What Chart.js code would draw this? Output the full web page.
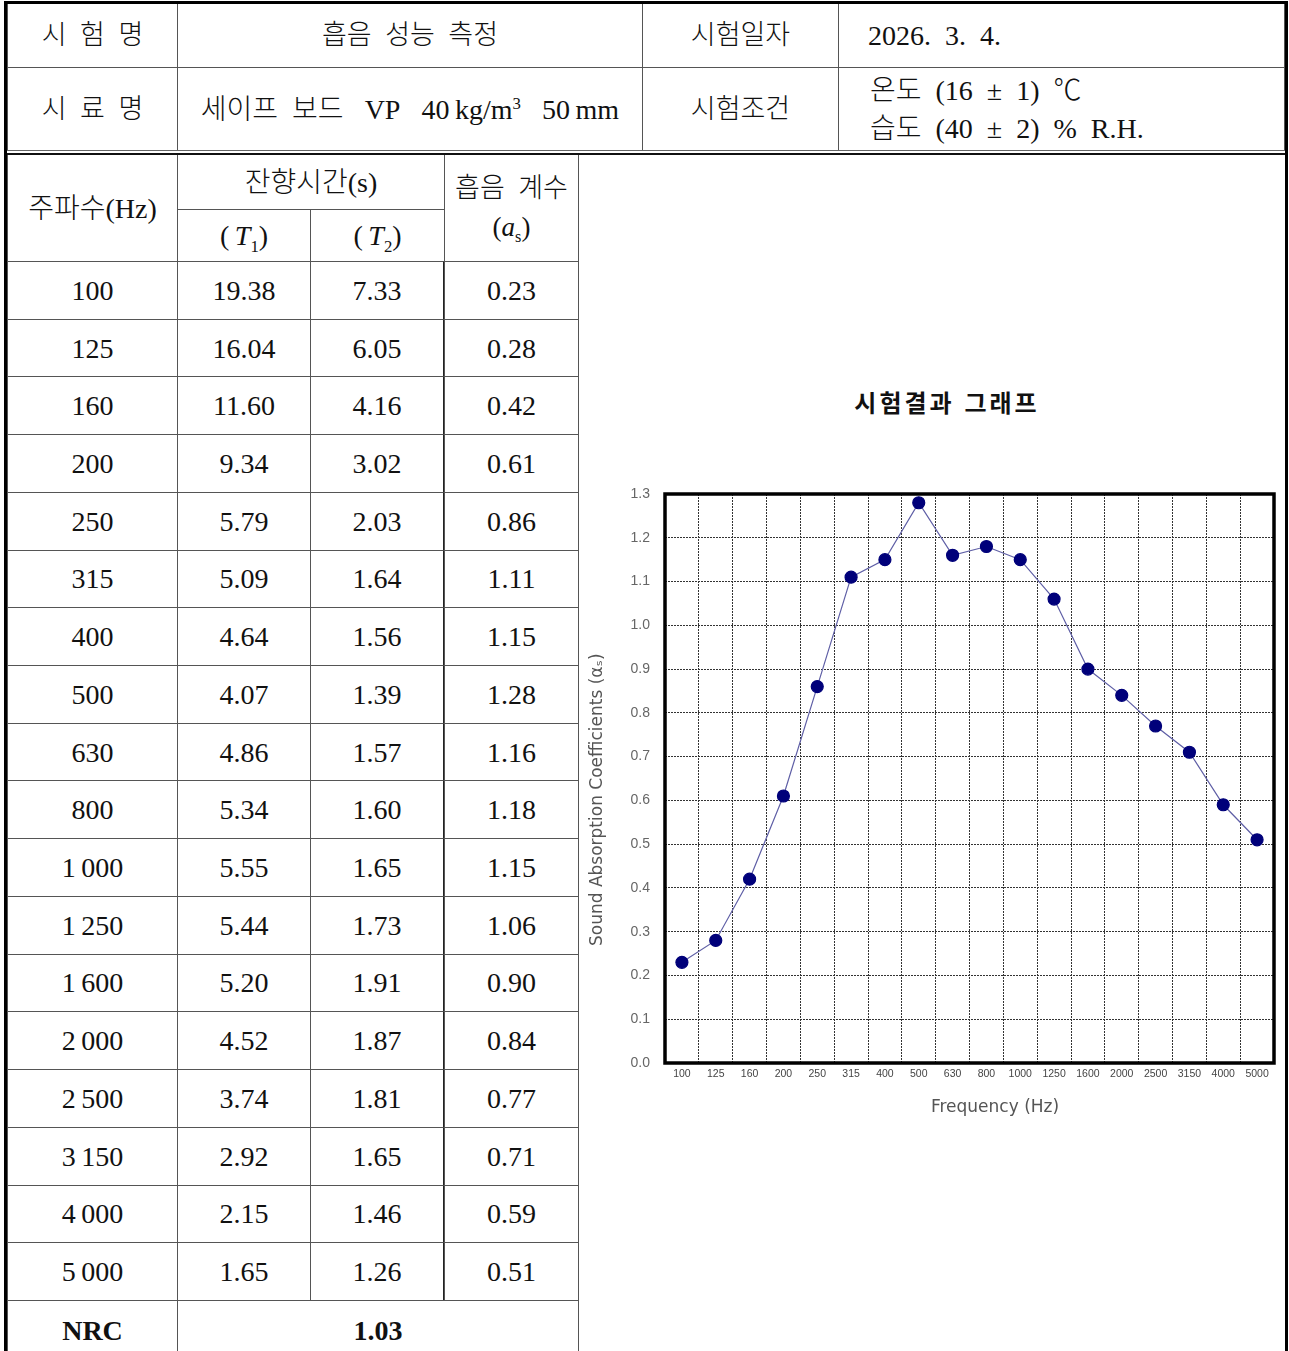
<!DOCTYPE html>
<html lang="ko">
<head>
<meta charset="utf-8">
<script src="https://cdn.jsdelivr.net/npm/chart.js@4.4.1/dist/chart.umd.min.js"></script>
<style>
  html, body { margin: 0; padding: 0; background: #fff; }
  body { width: 1289px; height: 1351px; position: relative; overflow: hidden;
         font-family: "Liberation Serif", "Noto Sans CJK KR", serif; color: #111; font-weight: 300; }
  .cell { position: absolute; box-sizing: border-box; border: 1px solid #555;
          display: flex; align-items: center; justify-content: center; text-align: center;
          font-size: 28px; line-height: 1.25; background: #fff; white-space: nowrap; }
  .ko { font-size: 27px; }
  .left { justify-content: flex-start; text-align: left; }
  .bold { font-weight: bold; }
  sub, sup { font-size: 60%; line-height: 0; }
  #frame { position: absolute; left: 4px; top: 1px; width: 1284px; height: 1400px;
           box-sizing: border-box; border: 3px solid #000; z-index: 5; pointer-events: none; }
  #sep { position: absolute; left: 7px; top: 150px; width: 1278px; height: 5px; box-sizing: border-box;
         border-top: 1px solid #666; border-bottom: 2px solid #111; background: #fff; z-index: 4; }
  #graphTitle { position: absolute; left: 578px; width: 708px; top: 384px; text-align: center;
                padding-left: 30px; box-sizing: border-box; font-family: "Noto Sans CJK KR", sans-serif;
                font-size: 24px; font-weight: bold; letter-spacing: 3px; z-index: 3; }
  #chartBox { position: absolute; left: 580px; top: 470px; width: 705px; height: 660px; z-index: 3; }
</style>
</head>
<body>
<div id="frame"></div>
<div id="sep"></div>
<div id="graphTitle">시험결과 그래프</div>
<div id="chartBox"><canvas id="chart" width="705" height="660"></canvas></div>

<script>
// measured data
const freqHz = [100, 125, 160, 200, 250, 315, 400, 500, 630, 800, 1000, 1250, 1600, 2000, 2500, 3150, 4000, 5000];
const reverbT1 = [19.38, 16.04, 11.60, 9.34, 5.79, 5.09, 4.64, 4.07, 4.86, 5.34, 5.55, 5.44, 5.20, 4.52, 3.74, 2.92, 2.15, 1.65];
const reverbT2 = [7.33, 6.05, 4.16, 3.02, 2.03, 1.64, 1.56, 1.39, 1.57, 1.60, 1.65, 1.73, 1.91, 1.87, 1.81, 1.65, 1.46, 1.26];
const alphaS = [0.23, 0.28, 0.42, 0.61, 0.86, 1.11, 1.15, 1.28, 1.16, 1.18, 1.15, 1.06, 0.90, 0.84, 0.77, 0.71, 0.59, 0.51];
const nrc = 1.03;
const yTicks = [0.0, 0.1, 0.2, 0.3, 0.4, 0.5, 0.6, 0.7, 0.8, 0.9, 1.0, 1.1, 1.2, 1.3];

function cell(x, y, w, h, html, cls, css) {
  const d = document.createElement("div");
  d.className = "cell" + (cls ? " " + cls : "");
  d.style.left = x + "px";
  d.style.top = y + "px";
  d.style.width = w + "px";
  d.style.height = h + "px";
  if (css) Object.assign(d.style, css);
  d.innerHTML = "<span>" + html + "</span>";
  document.body.appendChild(d);
  return d;
}

// top info block
cell(7, 3, 171, 65, "시&nbsp;&nbsp;험&nbsp;&nbsp;명", "ko");
cell(177, 3, 466, 65, "흡음&nbsp;&nbsp;성능&nbsp;&nbsp;측정", "ko");
cell(642, 3, 197, 65, "시험일자", "ko");
cell(838, 3, 447, 65, "2026.&nbsp;&nbsp;3.&nbsp;&nbsp;4.", "left", { paddingLeft: "29px" });
cell(7, 67, 171, 85, "시&nbsp;&nbsp;료&nbsp;&nbsp;명", "ko");
cell(177, 67, 466, 85, "세이프&nbsp;&nbsp;보드&nbsp;&nbsp;&nbsp;VP&nbsp;&nbsp;&nbsp;40&thinsp;kg/m<sup>3</sup>&nbsp;&nbsp;&nbsp;50&thinsp;mm");
cell(642, 67, 197, 85, "시험조건", "ko");
cell(838, 67, 447, 85, "온도&nbsp;&nbsp;(16&nbsp;&nbsp;±&nbsp;&nbsp;1)&nbsp;&nbsp;℃<br>습도&nbsp;&nbsp;(40&nbsp;&nbsp;±&nbsp;&nbsp;2)&nbsp;&nbsp;%&nbsp;&nbsp;R.H.", "left",
     { paddingLeft: "31px", lineHeight: "1.35" });

// lower table header
cell(578, 154, 708, 1250, "");
cell(7, 154, 171, 108, "주파수(Hz)");
cell(177, 154, 268, 56, "잔향시간(s)");
cell(177, 209, 134, 53, "(&thinsp;<i>T</i><sub>1</sub>)");
cell(310, 209, 135, 53, "(&thinsp;<i>T</i><sub>2</sub>)");
cell(444, 154, 135, 108, "흡음&nbsp;&nbsp;계수<br>(<i>a</i><sub>s</sub>)", "ko", { lineHeight: "1.45" });

const rowTop = 261, rowH = 57.72;
const fmtFreq = f => f >= 1000 ? String(f).slice(0, -3) + "\u2009" + String(f).slice(-3) : String(f);
freqHz.forEach((f, i) => {
  const y = rowTop + i * rowH;
  cell(7, y, 171, rowH + 1, fmtFreq(f));
  cell(177, y, 134, rowH + 1, reverbT1[i].toFixed(2));
  cell(310, y, 135, rowH + 1, reverbT2[i].toFixed(2), "", { borderRight: "2px solid #222" });
  cell(444, y, 135, rowH + 1, alphaS[i].toFixed(2));
});
const nrcTop = rowTop + freqHz.length * rowH;
cell(7, nrcTop, 171, 62, "NRC", "bold");
cell(177, nrcTop, 402, 62, nrc.toFixed(2), "bold");

// chart
const framePlugin = {
  id: "frame",
  afterDraw(chart) {
    const { ctx, chartArea: a } = chart;
    ctx.save();
    ctx.lineWidth = 3.5;
    ctx.strokeStyle = "#000";
    ctx.strokeRect(a.left, a.top, a.right - a.left, a.bottom - a.top);
    ctx.restore();
  }
};

new Chart(document.getElementById("chart"), {
  type: "line",
  data: {
    labels: freqHz.map(String),
    datasets: [{
      data: alphaS,
      borderColor: "#5f5fa6",
      borderWidth: 1.2,
      pointRadius: 6,
      pointBackgroundColor: "#00007a",
      pointBorderColor: "#00007a",
      tension: 0
    }]
  },
  options: {
    responsive: false,
    animation: false,
    layout: { padding: { top: 24, right: 11, left: 0, bottom: 0 } },
    plugins: { legend: { display: false }, tooltip: { enabled: false } },
    scales: {
      x: {
        offset: true,
        grid: { offset: true, color: "#333", drawTicks: false },
        border: { display: false, dash: [2, 1] },
        ticks: { color: "#444", font: { family: "Liberation Sans", size: 10.5 }, padding: 5, maxRotation: 0, autoSkip: false },
        title: { display: true, text: "\u2003\u2003\u2003Frequency (Hz)", color: "#555",
                 font: { family: "DejaVu Sans", size: 17 }, padding: { top: 0, bottom: 12 } },
        afterFit(scale) { scale.height = 67; }
      },
      y: {
        min: 0,
        max: 1.3,
        afterBuildTicks(scale) { scale.ticks = yTicks.map(v => ({ value: v })); },
        grid: { color: "#333", drawTicks: false },
        border: { display: false, dash: [2, 1] },
        ticks: { color: "#666", font: { family: "Liberation Sans", size: 14 }, padding: 15,
                 callback: v => Number(v).toFixed(1) },
        title: { display: true, text: "Sound Absorption Coefficients (\u03b1\u209b)\u2003\u2003\u2002", color: "#555",
                 font: { family: "DejaVu Sans", size: 17 }, padding: { top: 7, bottom: 0 } },
        afterFit(scale) { scale.width = 85; }
      }
    }
  },
  plugins: [framePlugin]
});
</script>
</body>
</html>
